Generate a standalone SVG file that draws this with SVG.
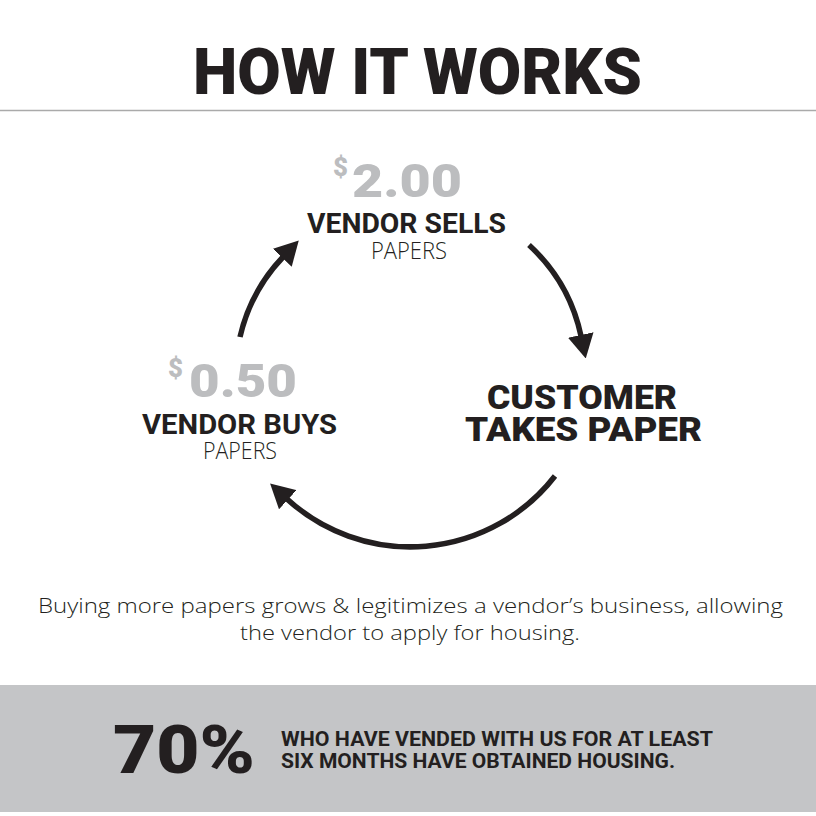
<svg xmlns="http://www.w3.org/2000/svg" width="816" height="816" viewBox="0 0 816 816">
  <defs>
    <marker id="head" markerUnits="userSpaceOnUse" markerWidth="24" markerHeight="26" viewBox="0 0 23 25" refX="1" refY="12.5" orient="auto">
      <path d="M0,0 L23,12.5 L0,25 z" fill="#231f20"/>
    </marker>
    <style>
      .heavy { font-family: Roboto, "Liberation Sans", Arial, sans-serif; font-weight: 900; fill: #231f20; }
      .bold { font-family: Roboto, "Liberation Sans", Arial, sans-serif; font-weight: bold; fill: #231f20; }
      .price { font-family: Roboto, "Liberation Sans", Arial, sans-serif; font-weight: 900; fill: #bcbdbf; }
      .light { font-family: "Open Sans", "Liberation Sans", sans-serif; font-weight: 300; fill: #231f20; }
      .arc { fill: none; stroke: #231f20; stroke-width: 5.5; marker-end: url(#head); }
    </style>
  </defs>
  <rect x="0" y="0" width="816" height="816" fill="#ffffff"/>

  <g id="title">
    <text class="heavy" x="193" y="94" font-size="64" textLength="449" lengthAdjust="spacingAndGlyphs">HOW IT WORKS</text>
    <line x1="0" y1="110.5" x2="816" y2="110.5" stroke="#aaaaaa" stroke-width="1.5"/>
  </g>

  <g id="node-sells">
    <text class="price" x="333" y="176" font-size="26" textLength="15" lengthAdjust="spacingAndGlyphs">$</text>
    <text class="price" x="352" y="197" font-size="46" textLength="110" lengthAdjust="spacingAndGlyphs">2.00</text>
    <text class="bold" x="307" y="233" font-size="27" textLength="199" lengthAdjust="spacingAndGlyphs">VENDOR SELLS</text>
    <text class="light" x="371" y="259" font-size="24" textLength="76" lengthAdjust="spacingAndGlyphs">PAPERS</text>
  </g>

  <g id="node-buys">
    <text class="price" x="168" y="377" font-size="26" textLength="15" lengthAdjust="spacingAndGlyphs">$</text>
    <text class="price" x="189" y="397" font-size="46" textLength="108" lengthAdjust="spacingAndGlyphs">0.50</text>
    <text class="bold" x="142" y="434" font-size="27" textLength="195" lengthAdjust="spacingAndGlyphs">VENDOR BUYS</text>
    <text class="light" x="203" y="459" font-size="24" textLength="74" lengthAdjust="spacingAndGlyphs">PAPERS</text>
  </g>

  <g id="node-customer">
    <text class="heavy" x="487" y="409" font-size="34" textLength="190" lengthAdjust="spacingAndGlyphs">CUSTOMER</text>
    <text class="heavy" x="465" y="441" font-size="34" textLength="237" lengthAdjust="spacingAndGlyphs">TAKES PAPER</text>
  </g>

  <g id="connectors">
    <path class="arc" d="M240,337 A172,172 0 0 1 283,257"/>
    <path class="arc" d="M529,245 A172,172 0 0 1 581,336"/>
    <path class="arc" d="M555,476 A183,183 0 0 1 287,499"/>
  </g>

  <g id="description">
    <text class="light" x="38" y="613" font-size="20" textLength="745" lengthAdjust="spacingAndGlyphs">Buying more papers grows &amp; legitimizes a vendor’s business, allowing</text>
    <text class="light" x="240" y="640" font-size="20" textLength="340" lengthAdjust="spacingAndGlyphs">the vendor to apply for housing.</text>
  </g>

  <g id="stat-band">
    <rect x="0" y="685" width="816" height="127" fill="#c4c5c7"/>
    <text class="heavy" x="113" y="773" font-size="66" textLength="142" lengthAdjust="spacingAndGlyphs">70%</text>
    <text class="bold" x="281" y="746" font-size="21" textLength="432" lengthAdjust="spacingAndGlyphs">WHO HAVE VENDED WITH US FOR AT LEAST</text>
    <text class="bold" x="281" y="768" font-size="21" textLength="394" lengthAdjust="spacingAndGlyphs">SIX MONTHS HAVE OBTAINED HOUSING.</text>
  </g>
</svg>
